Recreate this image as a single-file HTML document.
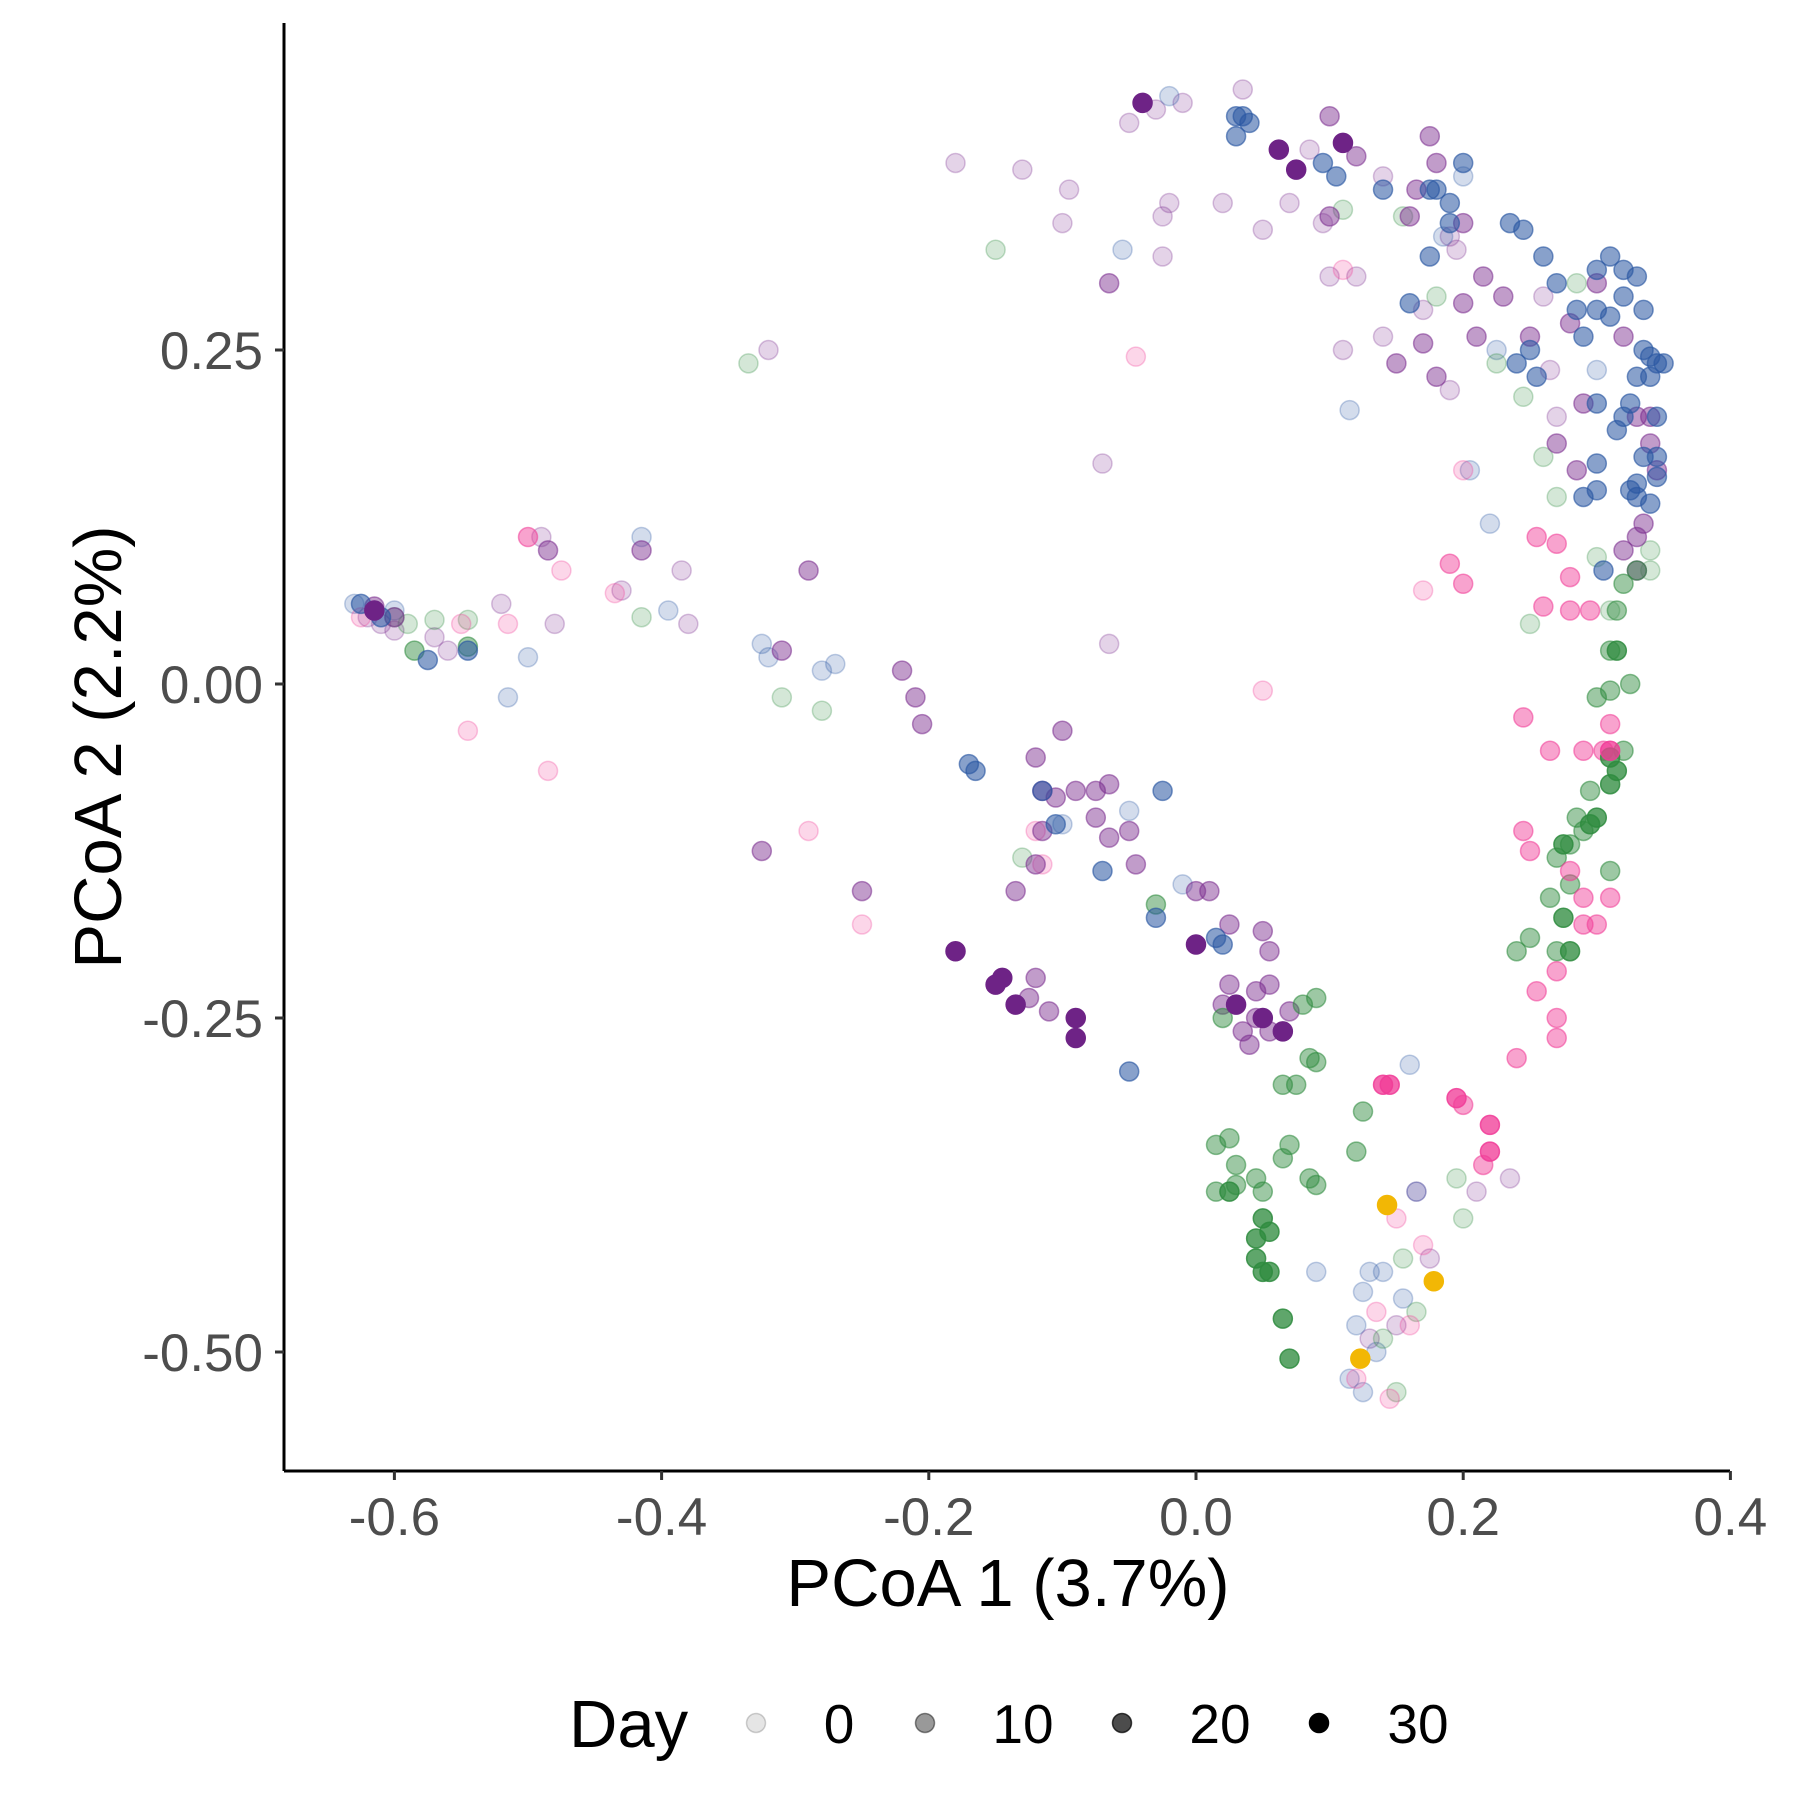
<!DOCTYPE html>
<html><head><meta charset="utf-8">
<style>
html,body{margin:0;padding:0;background:#fff;}
svg{display:block;font-family:"Liberation Sans",Arial,sans-serif;}
</style></head>
<body>
<svg id="chart" width="1800" height="1800" viewBox="0 0 1800 1800" xmlns="http://www.w3.org/2000/svg">
  <g id="points"></g>
  <line x1="284" y1="23" x2="284" y2="1471" stroke="#000" stroke-width="3"/>
  <line x1="284" y1="1471" x2="1730" y2="1471" stroke="#000" stroke-width="3"/>
  <g id="xticks"></g>
  <g id="yticks"></g>
  <text x="1008" y="1606" font-size="67" text-anchor="middle" fill="#000">PCoA 1 (3.7%)</text>
  <text transform="translate(121,747) rotate(-90)" font-size="67" text-anchor="middle" fill="#000">PCoA 2 (2.2%)</text>
  <g id="legend">
    <text x="569" y="1747" font-size="67" fill="#000">Day</text>
  </g>
</svg>
<script>
const xTicks = [-0.6,-0.4,-0.2,0.0,0.2,0.4];
const xTickLabels = ["-0.6","-0.4","-0.2","0.0","0.2","0.4"];
const yTicks = [0.25,0,-0.25,-0.5];
const yTickLabels = ["0.25","0.00","-0.25","-0.50"];
const legendDays = [0,10,20,30];

const purpleLight = [[-0.62,0.05],[-0.61,0.045],[-0.6,0.04],[-0.57,0.035],[-0.56,0.025],[-0.49,0.11],[-0.48,0.045],[-0.43,0.07],[-0.385,0.085],[-0.38,0.045],[-0.18,0.39],[-0.13,0.385],[-0.095,0.37],[-0.1,0.345],[-0.05,0.42],[-0.03,0.43],[-0.01,0.435],[-0.02,0.36],[-0.025,0.35],[-0.025,0.32],[0.02,0.36],[0.035,0.445],[0.07,0.36],[0.05,0.34],[0.085,0.4],[0.095,0.345],[0.1,0.305],[0.12,0.305],[0.11,0.25],[0.14,0.38],[0.14,0.26],[0.17,0.28],[0.19,0.335],[0.195,0.325],[0.19,0.22],[0.26,0.29],[0.265,0.235],[0.27,0.2],[-0.07,0.165],[-0.065,0.03],[-0.32,0.25],[-0.52,0.06],[0.165,-0.38],[0.21,-0.38],[0.235,-0.37],[0.13,-0.49],[0.15,-0.48],[0.175,-0.43]];
const purpleMid = [[-0.485,0.1],[-0.415,0.1],[-0.31,0.025],[-0.29,0.085],[-0.22,0.01],[-0.21,-0.01],[-0.205,-0.03],[-0.325,-0.125],[-0.25,-0.155],[0.1,0.425],[0.12,0.395],[0.1,0.35],[0.165,0.37],[0.175,0.41],[0.18,0.39],[0.2,0.345],[0.2,0.285],[0.215,0.305],[0.23,0.29],[0.15,0.24],[0.16,0.35],[0.17,0.255],[0.18,0.23],[0.21,0.26],[0.25,0.26],[0.28,0.27],[0.29,0.21],[0.3,0.3],[0.32,0.26],[0.27,0.18],[0.285,0.16],[0.33,0.2],[0.34,0.2],[0.34,0.18],[0.32,0.1],[0.33,0.11],[0.335,0.12],[0.33,0.085],[0.345,0.16],[-0.065,0.3],[-0.12,-0.055],[-0.115,-0.08],[-0.105,-0.085],[-0.1,-0.035],[-0.09,-0.08],[-0.075,-0.08],[-0.065,-0.075],[-0.075,-0.1],[-0.065,-0.115],[-0.05,-0.11],[-0.045,-0.135],[-0.12,-0.135],[-0.135,-0.155],[-0.115,-0.11],[-0.125,-0.235],[-0.12,-0.22],[-0.11,-0.245],[0.01,-0.155],[0.025,-0.18],[0.025,-0.225],[0.045,-0.23],[0.055,-0.225],[0.045,-0.25],[0.055,-0.26],[0.07,-0.245],[0.055,-0.2],[0.05,-0.185],[0.035,-0.26],[0.04,-0.27],[0.02,-0.24],[0.0,-0.155],[-0.6,0.05],[-0.615,0.058]];
const purpleDark = [[-0.04,0.435],[0.062,0.4],[0.075,0.385],[0.11,0.405],[-0.18,-0.2],[-0.145,-0.22],[-0.15,-0.225],[-0.135,-0.24],[-0.09,-0.25],[-0.09,-0.265],[0.0,-0.195],[0.03,-0.24],[0.05,-0.25],[0.065,-0.26],[-0.615,0.055]];
const blueLight = [[-0.63,0.06],[-0.615,0.055],[-0.6,0.055],[-0.515,-0.01],[-0.5,0.02],[-0.415,0.11],[-0.395,0.055],[-0.325,0.03],[-0.32,0.02],[-0.28,0.01],[-0.27,0.015],[-0.02,0.44],[0.2,0.38],[0.225,0.25],[0.185,0.335],[0.115,0.205],[-0.055,0.325],[0.205,0.16],[0.22,0.12],[-0.1,-0.105],[-0.05,-0.095],[-0.01,-0.15],[0.09,-0.44],[0.115,-0.52],[0.12,-0.48],[0.125,-0.53],[0.135,-0.5],[0.14,-0.44],[0.13,-0.44],[0.125,-0.455],[0.165,-0.38],[0.155,-0.46],[0.16,-0.285],[0.3,0.235]];
const blueMid = [[-0.625,0.06],[-0.61,0.05],[-0.575,0.018],[-0.545,0.025],[-0.17,-0.06],[-0.165,-0.065],[0.03,0.425],[0.03,0.41],[0.035,0.425],[0.04,0.42],[0.095,0.39],[0.105,0.38],[0.14,0.37],[0.175,0.37],[0.18,0.37],[0.19,0.36],[0.19,0.345],[0.175,0.32],[0.235,0.345],[0.245,0.34],[0.26,0.32],[0.27,0.3],[0.285,0.28],[0.29,0.26],[0.24,0.24],[0.25,0.25],[0.255,0.23],[0.3,0.31],[0.32,0.31],[0.32,0.29],[0.33,0.305],[0.3,0.28],[0.31,0.275],[0.335,0.28],[0.335,0.25],[0.34,0.245],[0.345,0.24],[0.35,0.24],[0.34,0.23],[0.33,0.23],[0.325,0.21],[0.32,0.2],[0.315,0.19],[0.335,0.17],[0.345,0.17],[0.345,0.2],[0.33,0.15],[0.345,0.155],[0.34,0.135],[0.33,0.14],[0.325,0.145],[0.3,0.165],[0.3,0.145],[0.29,0.14],[0.3,0.21],[0.16,0.285],[0.305,0.085],[-0.115,-0.08],[-0.105,-0.105],[-0.07,-0.14],[-0.03,-0.175],[-0.025,-0.08],[0.015,-0.19],[0.02,-0.195],[-0.05,-0.29],[0.2,0.39],[0.31,0.32]];
const greenLight = [[-0.6,0.05],[-0.59,0.045],[-0.57,0.048],[-0.545,0.048],[-0.415,0.05],[-0.31,-0.01],[-0.28,-0.02],[-0.15,0.325],[-0.335,0.24],[0.11,0.355],[0.155,0.35],[0.18,0.29],[0.225,0.24],[0.245,0.215],[0.285,0.3],[0.26,0.17],[0.25,0.045],[0.27,0.14],[0.3,0.095],[0.31,0.055],[0.34,0.1],[0.34,0.085],[-0.13,-0.13],[0.2,-0.4],[0.195,-0.37],[0.165,-0.47],[0.15,-0.53],[0.155,-0.43],[0.14,-0.49]];
const greenMid = [[-0.585,0.025],[-0.545,0.028],[0.31,0.025],[0.3,-0.01],[0.31,-0.005],[0.325,0.0],[0.32,-0.05],[0.295,-0.08],[0.285,-0.1],[0.28,-0.12],[0.27,-0.13],[0.29,-0.11],[0.31,-0.14],[0.28,-0.15],[0.265,-0.16],[0.25,-0.19],[0.27,-0.2],[0.24,-0.2],[0.315,0.055],[0.33,0.085],[0.32,0.075],[-0.03,-0.165],[0.02,-0.25],[0.08,-0.24],[0.09,-0.235],[0.085,-0.28],[0.09,-0.283],[0.065,-0.3],[0.075,-0.3],[0.125,-0.32],[0.12,-0.35],[0.015,-0.345],[0.025,-0.34],[0.03,-0.36],[0.03,-0.375],[0.045,-0.37],[0.05,-0.38],[0.015,-0.38],[0.07,-0.345],[0.065,-0.355],[0.085,-0.37],[0.09,-0.375]];
const greenDark = [[0.315,0.025],[0.31,-0.055],[0.315,-0.065],[0.31,-0.075],[0.3,-0.1],[0.295,-0.105],[0.275,-0.12],[0.275,-0.175],[0.28,-0.2],[0.025,-0.38],[0.05,-0.4],[0.055,-0.41],[0.045,-0.415],[0.045,-0.43],[0.05,-0.44],[0.055,-0.44],[0.065,-0.475],[0.07,-0.505]];
const pinkLight = [[-0.625,0.05],[-0.55,0.045],[-0.545,-0.035],[-0.515,0.045],[-0.475,0.085],[-0.485,-0.065],[-0.435,0.068],[-0.29,-0.11],[-0.25,-0.18],[-0.045,0.245],[0.05,-0.005],[0.11,0.31],[-0.12,-0.11],[-0.115,-0.135],[0.2,0.16],[0.17,0.07],[0.12,-0.52],[0.145,-0.535],[0.16,-0.48],[0.135,-0.47],[0.15,-0.4],[0.17,-0.42]];
const pinkMid = [[-0.5,0.11],[0.255,0.11],[0.27,0.105],[0.28,0.08],[0.26,0.058],[0.28,0.055],[0.295,0.055],[0.19,0.09],[0.2,0.075],[0.245,-0.025],[0.265,-0.05],[0.29,-0.05],[0.305,-0.05],[0.31,-0.03],[0.245,-0.11],[0.25,-0.125],[0.28,-0.14],[0.29,-0.16],[0.29,-0.18],[0.3,-0.18],[0.31,-0.16],[0.27,-0.215],[0.255,-0.23],[0.27,-0.25],[0.27,-0.265],[0.24,-0.28],[0.215,-0.36],[0.2,-0.315]];
const pinkDark = [[0.31,-0.05],[0.22,-0.33],[0.22,-0.35],[0.195,-0.31],[0.14,-0.3],[0.145,-0.3]];
const yellowDark = [[0.143,-0.39],[0.178,-0.447],[0.123,-0.505]];

const series = [
  {name:"purple-day3", color:"#7B2D8E", day:3, pts:purpleLight},
  {name:"blue-day3", color:"#2B57A3", day:3, pts:blueLight},
  {name:"green-day3", color:"#2E8B3E", day:3, pts:greenLight},
  {name:"pink-day3", color:"#F03B97", day:3, pts:pinkLight},
  {name:"purple-day12", color:"#7B2D8E", day:12, pts:purpleMid},
  {name:"green-day12", color:"#2E8B3E", day:12, pts:greenMid},
  {name:"pink-day12", color:"#F03B97", day:12, pts:pinkMid},
  {name:"blue-day15", color:"#2B57A3", day:15, pts:blueMid},
  {name:"green-day22", color:"#2E8B3E", day:22, pts:greenDark},
  {name:"pink-day22", color:"#F03B97", day:22, pts:pinkDark},
  {name:"purple-day30", color:"#6E2386", day:30, pts:purpleDark},
  {name:"yellow-day30", color:"#F2B705", day:30, pts:yellowDark}
];

const NS = "http://www.w3.org/2000/svg";
function sx(v){ return 1196 + v*1336; }
function sy(v){ return 684 - v*1336; }
function alpha(d){ return 0.12 + 0.88*d/30; }

const pg = document.getElementById('points');
series.forEach(s=>{
  s.pts.forEach(p=>{
    const c = document.createElementNS(NS,'circle');
    
    
    c.setAttribute('cx', sx(p[0]));
    c.setAttribute('cy', sy(p[1]));
    c.setAttribute('r', 9.5);
    c.setAttribute('fill', s.color);
    c.setAttribute('fill-opacity', alpha(s.day));
    c.setAttribute('stroke', s.color);
    c.setAttribute('stroke-opacity', Math.min(1, alpha(s.day)+0.08));
    c.setAttribute('stroke-width', 1.5);
    pg.appendChild(c);
  });
});

const xg = document.getElementById('xticks');
xTicks.forEach((v,i)=>{
  const l = document.createElementNS(NS,'line');
  
  
  l.setAttribute('x1', sx(v)); l.setAttribute('x2', sx(v));
  l.setAttribute('y1', 1471); l.setAttribute('y2', 1480);
  l.setAttribute('stroke', '#333'); l.setAttribute('stroke-width', 3);
  xg.appendChild(l);
  const t = document.createElementNS(NS,'text');
  
  
  t.setAttribute('x', sx(v)); t.setAttribute('y', 1535);
  t.setAttribute('font-size', 53); t.setAttribute('text-anchor', 'middle');
  t.setAttribute('fill', '#4d4d4d');
  t.textContent = xTickLabels[i];
  xg.appendChild(t);
});
const yg = document.getElementById('yticks');
yTicks.forEach((v,i)=>{
  const l = document.createElementNS(NS,'line');
  
  
  l.setAttribute('x1', 275); l.setAttribute('x2', 284);
  l.setAttribute('y1', sy(v)); l.setAttribute('y2', sy(v));
  l.setAttribute('stroke', '#333'); l.setAttribute('stroke-width', 3);
  yg.appendChild(l);
  const t = document.createElementNS(NS,'text');
  
  
  t.setAttribute('x', 263); t.setAttribute('y', sy(v)+19);
  t.setAttribute('font-size', 53); t.setAttribute('text-anchor', 'end');
  t.setAttribute('fill', '#4d4d4d');
  t.textContent = yTickLabels[i];
  yg.appendChild(t);
});

const lg = document.getElementById('legend');
const lcx = [756, 925, 1122, 1319];
const lTextX = [839, 1023, 1220, 1418];
legendDays.forEach((d,i)=>{
  const c = document.createElementNS(NS,'circle');
  
  
  c.setAttribute('cx', lcx[i]); c.setAttribute('cy', 1723);
  c.setAttribute('r', 9.5);
  c.setAttribute('fill', '#000'); c.setAttribute('fill-opacity', 0.1 + 0.9*d/30);
  c.setAttribute('stroke', '#000'); c.setAttribute('stroke-opacity', 0.18 + 0.82*d/30);
  c.setAttribute('stroke-width', 1.5);
  lg.appendChild(c);
  const t = document.createElementNS(NS,'text');
  
  
  t.setAttribute('x', lTextX[i]); t.setAttribute('y', 1743);
  t.setAttribute('font-size', 55); t.setAttribute('text-anchor', 'middle');
  t.setAttribute('fill', '#000');
  t.textContent = String(d);
  lg.appendChild(t);
});
</script>
</body></html>
